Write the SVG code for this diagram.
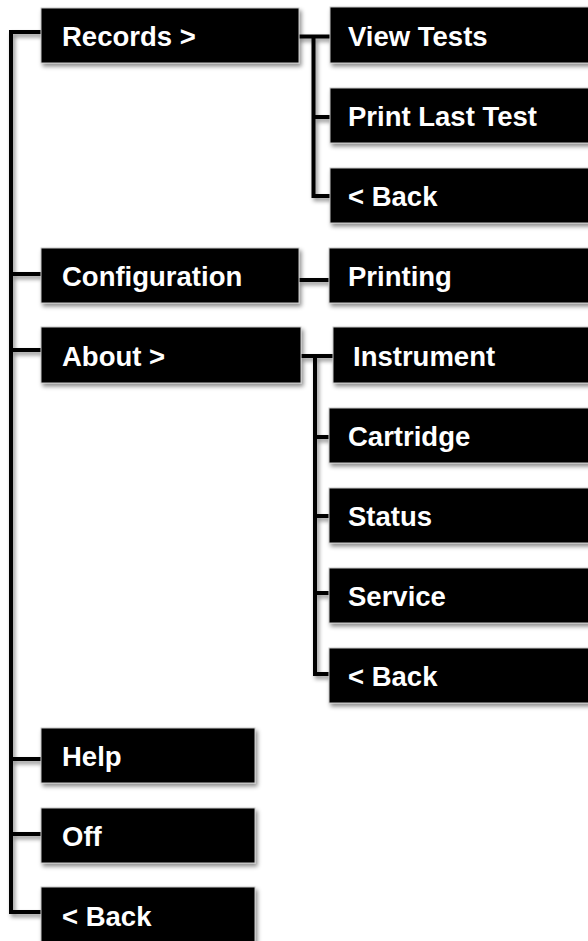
<svg xmlns="http://www.w3.org/2000/svg" width="588" height="941" viewBox="0 0 588 941">
<defs>
<filter id="sh" filterUnits="userSpaceOnUse" x="0" y="0" width="620" height="960">
<feDropShadow dx="2" dy="3" stdDeviation="2" flood-color="#000" flood-opacity="0.45"/>
</filter>
</defs>
<style>
.box{fill:#000;stroke:#c8c8c8;stroke-width:1;filter:url(#sh)}
.lbl{fill:#fff;font-family:"Liberation Sans",Arial,sans-serif;font-weight:bold;font-size:27.5px}
.con{fill:none;stroke:#000;stroke-width:4;stroke-linejoin:miter}
</style>
<rect width="588" height="941" fill="#fff"/>
<g id="connectors" filter="url(#sh)">
<path class="con" d="M41,32 H11 V912 H41"/>
<path class="con" d="M11,274 H41"/>
<path class="con" d="M11,350 H41"/>
<path class="con" d="M11,759 H41"/>
<path class="con" d="M11,834 H41"/>
<path class="con" d="M298,36.5 H330"/>
<path class="con" d="M313.5,36.5 V196 H330"/>
<path class="con" d="M313.5,117 H330"/>
<path class="con" d="M299,280 H329"/>
<path class="con" d="M301,356 H333"/>
<path class="con" d="M315,356 V674 H329"/>
<path class="con" d="M315,437 H329"/>
<path class="con" d="M315,516 H329"/>
<path class="con" d="M315,593 H329"/>
</g>
<g id="records"><rect class="box" x="41" y="8" width="258" height="55"/><text class="lbl" x="62" y="46">Records &gt;</text></g>
<g id="view-tests"><rect class="box" x="330" y="7" width="270" height="56"/><text class="lbl" x="348" y="46">View Tests</text></g>
<g id="print-last-test"><rect class="box" x="330" y="88" width="270" height="55"/><text class="lbl" x="348" y="126">Print Last Test</text></g>
<g id="records-back"><rect class="box" x="330" y="168" width="270" height="55"/><text class="lbl" x="348" y="206">&lt; Back</text></g>
<g id="configuration"><rect class="box" x="41" y="248" width="258" height="55"/><text class="lbl" x="62" y="286">Configuration</text></g>
<g id="printing"><rect class="box" x="329" y="248" width="271" height="55"/><text class="lbl" x="348" y="286">Printing</text></g>
<g id="about"><rect class="box" x="41" y="327" width="260" height="56"/><text class="lbl" x="62" y="366">About &gt;</text></g>
<g id="instrument"><rect class="box" x="333" y="327" width="267" height="56"/><text class="lbl" x="353" y="366">Instrument</text></g>
<g id="cartridge"><rect class="box" x="329" y="408" width="271" height="55"/><text class="lbl" x="348" y="446">Cartridge</text></g>
<g id="status"><rect class="box" x="329" y="488" width="271" height="55"/><text class="lbl" x="348" y="526">Status</text></g>
<g id="service"><rect class="box" x="329" y="568" width="271" height="55"/><text class="lbl" x="348" y="606">Service</text></g>
<g id="about-back"><rect class="box" x="329" y="648" width="271" height="55"/><text class="lbl" x="348" y="686">&lt; Back</text></g>
<g id="help"><rect class="box" x="41" y="728" width="214" height="55"/><text class="lbl" x="62" y="766">Help</text></g>
<g id="off"><rect class="box" x="41" y="808" width="214" height="55"/><text class="lbl" x="62" y="846">Off</text></g>
<g id="main-back"><rect class="box" x="41" y="887" width="214" height="70"/><text class="lbl" x="62" y="926">&lt; Back</text></g>
</svg>
